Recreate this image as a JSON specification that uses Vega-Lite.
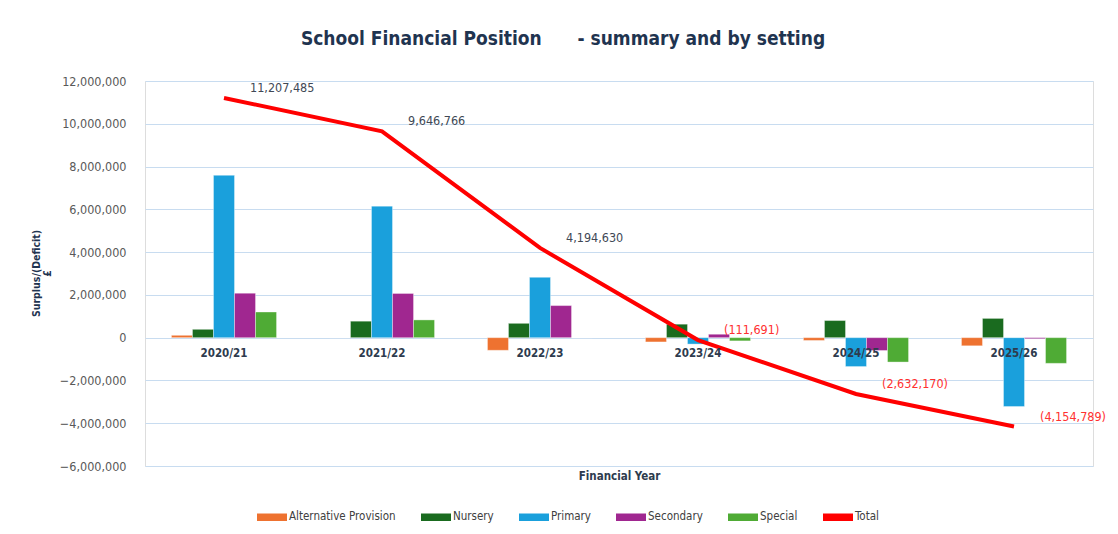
{
  "$schema": "https://vega.github.io/schema/vega-lite/v6.json",
  "autosize": "none",
  "width": 948,
  "height": 385,
  "padding": {"left": 145, "top": 81, "right": 25, "bottom": 68},
  "background": "white",
  "config": {"font": "Liberation Sans Narrow, DejaVu Sans Condensed, Liberation Sans, sans-serif"},
  "title": {
    "text": "School Financial Position\u00a0\u00a0\u00a0\u00a0\u00a0\u00a0- summary and by setting",
    "font": "Liberation Sans Narrow, DejaVu Sans Condensed, Liberation Sans, sans-serif",
    "fontSize": 19,
    "fontWeight": "bold",
    "color": "#1f3450",
    "anchor": "middle",
    "dx": -56,
    "offset": 26
  },
  "datasets": {
    "bars": [
      {"year": "2020/21", "setting": "Alternative Provision", "value": 110000},
      {"year": "2020/21", "setting": "Nursery", "value": 390000},
      {"year": "2020/21", "setting": "Primary", "value": 7590000},
      {"year": "2020/21", "setting": "Secondary", "value": 2080000},
      {"year": "2020/21", "setting": "Special", "value": 1200000},
      {"year": "2021/22", "setting": "Alternative Provision", "value": 0},
      {"year": "2021/22", "setting": "Nursery", "value": 770000},
      {"year": "2021/22", "setting": "Primary", "value": 6150000},
      {"year": "2021/22", "setting": "Secondary", "value": 2070000},
      {"year": "2021/22", "setting": "Special", "value": 830000},
      {"year": "2022/23", "setting": "Alternative Provision", "value": -590000},
      {"year": "2022/23", "setting": "Nursery", "value": 670000},
      {"year": "2022/23", "setting": "Primary", "value": 2820000},
      {"year": "2022/23", "setting": "Secondary", "value": 1500000},
      {"year": "2022/23", "setting": "Special", "value": 0},
      {"year": "2023/24", "setting": "Alternative Provision", "value": -200000},
      {"year": "2023/24", "setting": "Nursery", "value": 630000},
      {"year": "2023/24", "setting": "Primary", "value": -300000},
      {"year": "2023/24", "setting": "Secondary", "value": 160000},
      {"year": "2023/24", "setting": "Special", "value": -150000},
      {"year": "2024/25", "setting": "Alternative Provision", "value": -130000},
      {"year": "2024/25", "setting": "Nursery", "value": 800000},
      {"year": "2024/25", "setting": "Primary", "value": -1350000},
      {"year": "2024/25", "setting": "Secondary", "value": -600000},
      {"year": "2024/25", "setting": "Special", "value": -1140000},
      {"year": "2025/26", "setting": "Alternative Provision", "value": -380000},
      {"year": "2025/26", "setting": "Nursery", "value": 900000},
      {"year": "2025/26", "setting": "Primary", "value": -3220000},
      {"year": "2025/26", "setting": "Secondary", "value": -50000},
      {"year": "2025/26", "setting": "Special", "value": -1200000}
    ],
    "totals": [
      {"year": "2020/21", "Total": 11207485},
      {"year": "2021/22", "Total": 9646766},
      {"year": "2022/23", "Total": 4194630},
      {"year": "2023/24", "Total": -111691},
      {"year": "2024/25", "Total": -2632170},
      {"year": "2025/26", "Total": -4154789}
    ]
  },
  "encoding": {
    "x": {
      "field": "year",
      "type": "nominal",
      "sort": null,
      "scale": {"paddingInner": 0.335, "paddingOuter": 0.1675},
      "axis": {
        "title": "Financial Year",
        "titleFontSize": 11.5,
        "titleFontWeight": "bold",
        "titleColor": "#2e3b4e",
        "titleY": 138,
        "titleBaseline": "middle",
        "offset": -128,
        "zindex": 1,
        "labelAngle": 0,
        "labelFontSize": 11.5,
        "labelFontWeight": "bold",
        "labelColor": "#2e3b4e",
        "labelPadding": 9,
        "domain": false,
        "ticks": false,
        "grid": false
      }
    }
  },
  "layer": [
    {
      "data": {"name": "bars"},
      "mark": {"type": "bar", "stroke": "white", "strokeWidth": 0.6, "strokeOpacity": 0.6},
      "encoding": {
        "xOffset": {"field": "setting", "type": "nominal", "sort": ["Alternative Provision", "Nursery", "Primary", "Secondary", "Special"], "scale": {"paddingInner": 0, "paddingOuter": 0}},
        "y": {
          "field": "value",
          "type": "quantitative",
          "scale": {"domain": [-6000000, 12000000], "nice": false},
          "axis": {
            "title": ["Surplus/(Deficit)", "£"],
            "titleFontSize": 10.5,
            "titleFontWeight": "bold",
            "titleColor": "#1f3450",
            "titleX": -106,
            "titleY": 192,
            "titleAlign": "center",
            "titleBaseline": "alphabetic",
            "titleLineHeight": 11,
            "values": [-6000000, -4000000, -2000000, 0, 2000000, 4000000, 6000000, 8000000, 10000000, 12000000],
            "format": ",d",
            "labelFontSize": 12.5,
            "labelColor": "#595959",
            "labelPadding": 19,
            "domain": false,
            "ticks": false,
            "gridColor": "#c8dcf0",
            "gridWidth": 1
          }
        },
        "color": {
          "field": "setting",
          "type": "nominal",
          "scale": {
            "domain": ["Alternative Provision", "Nursery", "Primary", "Secondary", "Special", "Total"],
            "range": ["#ee7230", "#1a6b1f", "#1aa0dc", "#a02790", "#4fab35", "#ff0000"]
          },
          "legend": {
            "title": null,
            "orient": "none",
            "legendX": 112,
            "legendY": 421,
            "direction": "horizontal",
            "symbolType": "M-1,-0.25H1V0.25H-1Z",
            "symbolSize": 900,
            "symbolStrokeWidth": 0,
            "labelFontSize": 11.5,
            "labelColor": "#404040",
            "labelOffset": 2,
            "columnPadding": 25
          }
        }
      }
    },
    {
      "data": {"name": "totals"},
      "mark": {"type": "line", "strokeWidth": 4, "color": "#ff0000"},
      "encoding": {
        "y": {"field": "Total", "type": "quantitative"},
        "color": {"datum": "Total"}
      }
    },
    {
      "data": {"name": "totals"},
      "mark": {"type": "text", "align": "left", "baseline": "middle", "dx": 26, "dy": -10, "fontSize": 12.5},
      "encoding": {
        "y": {"field": "Total", "type": "quantitative"},
        "text": {"field": "Total", "type": "quantitative", "format": "(,.0f"},
        "color": {"condition": {"test": "datum.Total < 0", "value": "#ff3030"}, "value": "#404855"}
      }
    }
  ]
}
